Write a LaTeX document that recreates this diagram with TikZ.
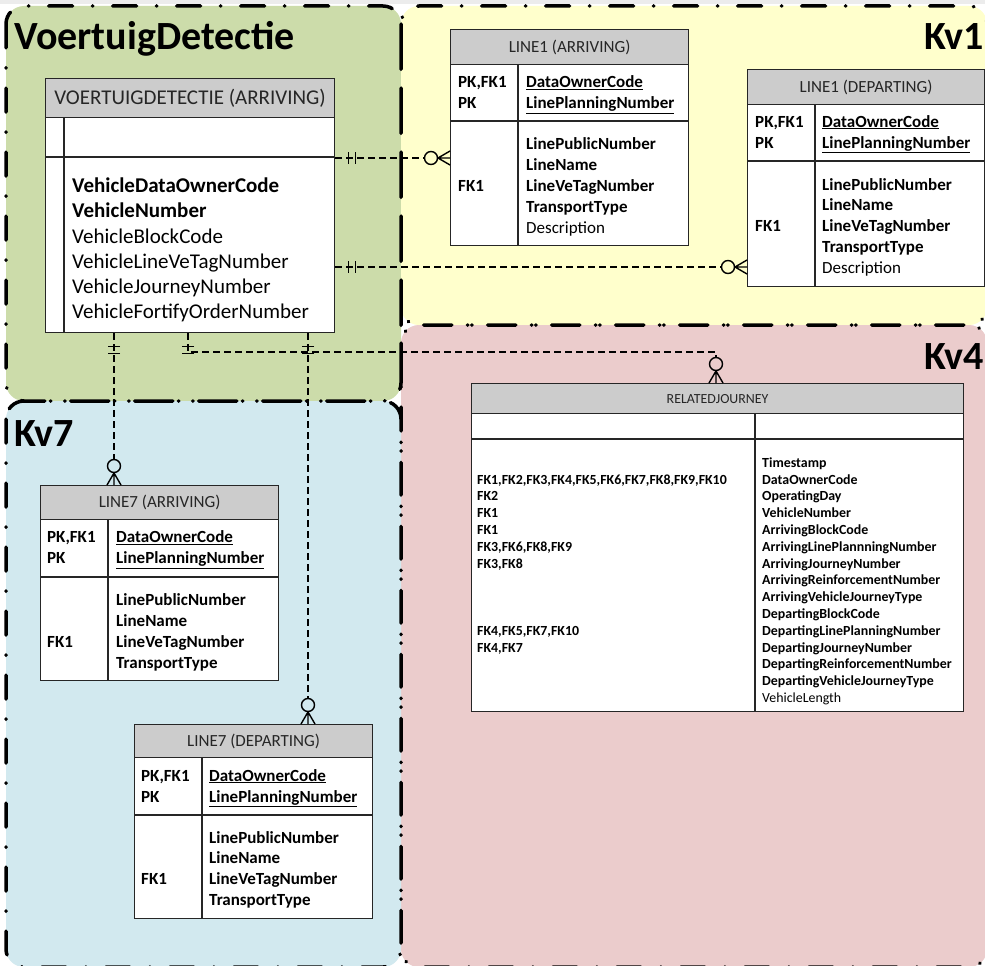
\documentclass[tikz,border=0pt]{standalone}
\usepackage{fontspec}
\setmainfont{Carlito}

\definecolor{vdgreen}{RGB}{204,220,170}
\definecolor{kvyellow}{RGB}{255,255,204}
\definecolor{kvpink}{RGB}{235,204,204}
\definecolor{kvblue}{RGB}{210,233,239}
\definecolor{hdrgray}{RGB}{204,204,204}
\definecolor{topgray}{RGB}{236,236,236}

\newcommand{\vdfont}{\fontsize{21}{25}\selectfont}
\newcommand{\lnfont}{\fontsize{17}{21}\selectfont}
\newcommand{\rjfont}{\fontsize{13.9}{16}\selectfont}

\tikzset{
  zone/.style={draw, line width=3.5pt, line cap=round, rounded corners=18pt,
    dash pattern=on 24pt off 19.75pt on 0.5pt off 19.75pt},
  zonetitle/.style={inner sep=0pt, font=\fontsize{40}{44}\selectfont\bfseries},
  tbl/.style={draw=black!85, line width=1.2pt, fill=white, inner sep=0pt},
  hdr/.style={tbl, fill=hdrgray, text=black!85},
  tblline/.style={draw=black!85, line width=1.2pt},
  fld/.style={anchor=base west, inner sep=0pt},
  rel/.style={line width=1.6pt, dash pattern=on 7pt off 4pt},
  onebar/.pic={\draw[solid, line width=1.4pt] (13,-6) -- (13,6) (20,-6) -- (20,6);},
  zeromany/.pic={\draw[solid, line width=1.4pt] (0,-7) -- (12,0) -- (0,7) (0,0) -- (12,0) (19,0) circle[radius=6.5];}
}

% name, left, top, right, bottom, header bottom, key bottom, divider, title
\newcommand{\ertable}[9]{%
  \node[tbl, anchor=north west, minimum width={#4pt-#2pt}, minimum height={#5pt-#3pt}] (#1) at (#2,#3) {};
  \node[hdr, anchor=north west, minimum width={#4pt-#2pt}, minimum height={#6pt-#3pt}] (#1-h) at (#1.north west) {#9};
  \draw[tblline] (#1.west |- 0,#7) -- (#1.east |- 0,#7);
  \draw[tblline] (#1-h.south -| #8,0) -- (#1.south -| #8,0);
}
% name, x, first baseline, step, font, entries
\newcommand{\ercol}[6]{%
  \foreach \lbl [count=\i] in {#6}
    \node[fld, font=#5] (#1-\i) at (#2,{#3+(\i-1)*#4}) {\lbl};
}

\begin{document}
\begin{tikzpicture}[x=1pt, y=-1pt]

\path[use as bounding box] (0,0) rectangle (985,966);
\clip (0,0) rectangle (985,966);
\fill[white] (0,0) rectangle (985,966);
\fill[topgray] (0,0) rectangle (985,4);

\fill[vdgreen, rounded corners=18pt] (6,6) rectangle (401,401);
\fill[kvyellow, rounded corners=18pt] (401,6) rectangle (987,325);
\fill[kvpink, rounded corners=18pt] (401,325) rectangle (987,967);
\fill[kvblue, rounded corners=18pt] (6,401) rectangle (401,967);
\draw[zone] (6,6) rectangle (401,401) (401,6) rectangle (987,325)
  (401,325) rectangle (987,967) (6,401) rectangle (401,967);

\node[zonetitle, anchor=base west] (t-vd) at (14,49) {VoertuigDetectie};
\node[zonetitle, anchor=base east] (t-kv1) at (984,49) {Kv1};
\node[zonetitle, anchor=base east] (t-kv4) at (984,369) {Kv4};
\node[zonetitle, anchor=base west] (t-kv7) at (14,446) {Kv7};

% VOERTUIGDETECTIE
\ertable{vd}{45}{78}{334}{332}{117}{157}{64}{\vdfont VOERTUIGDETECTIE (ARRIVING)}
\ercol{vd-f}{72}{192.6}{25.2}{\vdfont}{{\bfseries VehicleDataOwnerCode}, {\bfseries VehicleNumber},
  VehicleBlockCode, VehicleLineVeTagNumber, VehicleJourneyNumber, VehicleFortifyOrderNumber}

% Kv1
\ertable{l1a}{450}{29}{688}{245}{64}{121}{518}{\lnfont LINE1 (ARRIVING)}
\ercol{l1a-k}{458}{87.5}{21}{\lnfont\bfseries}{{PK,FK1}, PK}
\ercol{l1a-p}{526}{87.5}{21}{\lnfont\bfseries}{\underline{DataOwnerCode}, \underline{LinePlanningNumber}}
\node[fld, font=\lnfont\bfseries] (l1a-fk) at (458,191.5) {FK1};
\ercol{l1a-a}{526}{149.5}{21}{\lnfont}{\textbf{LinePublicNumber}, \textbf{LineName},
  \textbf{LineVeTagNumber}, \textbf{TransportType}, Description}

\ertable{l1d}{747}{69}{984}{286}{104}{161}{815}{\lnfont LINE1 (DEPARTING)}
\ercol{l1d-k}{755}{127}{21}{\lnfont\bfseries}{{PK,FK1}, PK}
\ercol{l1d-p}{822}{127}{21}{\lnfont\bfseries}{\underline{DataOwnerCode}, \underline{LinePlanningNumber}}
\node[fld, font=\lnfont\bfseries] (l1d-fk) at (755,231) {FK1};
\ercol{l1d-a}{822}{190}{20.8}{\lnfont}{\textbf{LinePublicNumber}, \textbf{LineName},
  \textbf{LineVeTagNumber}, \textbf{TransportType}, Description}

% Kv7
\ertable{l7a}{40}{485}{278}{680}{519}{577}{108}{\lnfont LINE7 (ARRIVING)}
\ercol{l7a-k}{47}{542.5}{21}{\lnfont\bfseries}{{PK,FK1}, PK}
\ercol{l7a-p}{116}{542.5}{21}{\lnfont\bfseries}{\underline{DataOwnerCode}, \underline{LinePlanningNumber}}
\node[fld, font=\lnfont\bfseries] (l7a-fk) at (47,647.5) {FK1};
\ercol{l7a-a}{116}{605.5}{21}{\lnfont\bfseries}{LinePublicNumber, LineName, LineVeTagNumber, TransportType}

\ertable{l7d}{134}{724}{372}{918}{757}{815}{202}{\lnfont LINE7 (DEPARTING)}
\ercol{l7d-k}{141}{781}{21}{\lnfont\bfseries}{{PK,FK1}, PK}
\ercol{l7d-p}{209}{781}{21}{\lnfont\bfseries}{\underline{DataOwnerCode}, \underline{LinePlanningNumber}}
\node[fld, font=\lnfont\bfseries] (l7d-fk) at (141,884.5) {FK1};
\ercol{l7d-a}{209}{843}{20.8}{\lnfont\bfseries}{LinePublicNumber, LineName, LineVeTagNumber, TransportType}

% Kv4
\ertable{rj}{471}{383}{963}{711}{413}{439}{755}{\rjfont RELATEDJOURNEY}
\ercol{rj-k}{477}{467.3}{16.8}{\rjfont\bfseries}{{}, {FK1,FK2,FK3,FK4,FK5,FK6,FK7,FK8,FK9,FK10}, FK2, FK1, FK1,
  {FK3,FK6,FK8,FK9}, {FK3,FK8}, {}, {}, {}, {FK4,FK5,FK7,FK10}, {FK4,FK7}}
\ercol{rj-a}{762}{467.3}{16.8}{\rjfont\bfseries}{Timestamp, DataOwnerCode, OperatingDay, VehicleNumber,
  ArrivingBlockCode, ArrivingLinePlannningNumber, ArrivingJourneyNumber, ArrivingReinforcementNumber,
  ArrivingVehicleJourneyType, DepartingBlockCode, DepartingLinePlanningNumber, DepartingJourneyNumber,
  DepartingReinforcementNumber, DepartingVehicleJourneyType, {\mdseries VehicleLength}}

\begin{scope}[shorten >=25.5pt]
\draw[rel] (vd.east |- 0,158) -- (l1a.west |- 0,158);
\draw[rel] (vd.east |- 0,267) -- (l1d.west |- 0,267);
\draw[rel] (vd.south -| 114,0) -- (l7a.north -| 114,0);
\draw[rel] (vd.south -| 188,0) -- ++(0,19) -| (rj.north -| 716,0);
\draw[rel] (vd.south -| 308,0) -- (l7d.north -| 308,0);
\end{scope}

\path (vd.east |- 0,158) pic {onebar} (vd.east |- 0,267) pic {onebar}
  (vd.south -| 114,0) pic[rotate=-90] {onebar} (vd.south -| 188,0) pic[rotate=-90] {onebar}
  (vd.south -| 308,0) pic[rotate=-90] {onebar};
\path (l1a.west |- 0,158) pic[rotate=180] {zeromany} (l1d.west |- 0,267) pic[rotate=180] {zeromany}
  (l7a.north -| 114,0) pic[rotate=90] {zeromany} (l7d.north -| 308,0) pic[rotate=90] {zeromany}
  (rj.north -| 716,0) pic[rotate=90] {zeromany};

\end{tikzpicture}
\end{document}
